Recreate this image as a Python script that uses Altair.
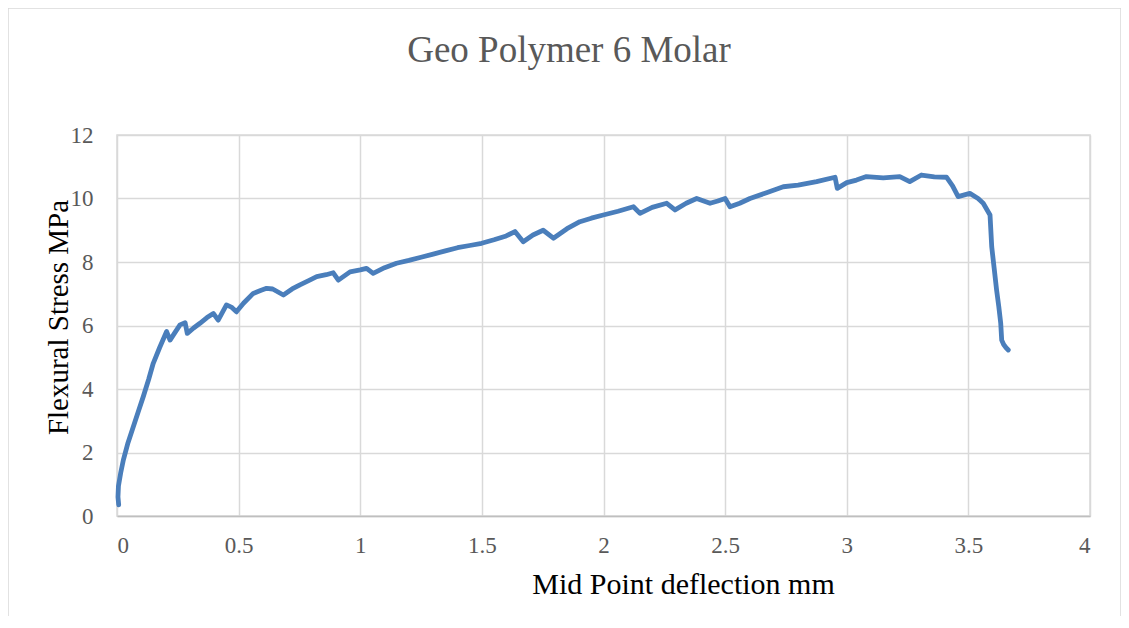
import altair as alt
import pandas as pd

deflection = [0.007, 0.004, 0.006, 0.015, 0.026, 0.045, 0.067, 0.088, 0.108, 0.13, 0.149, 0.175, 0.204, 0.218,
              0.24, 0.259, 0.28, 0.289, 0.315, 0.341, 0.37, 0.396, 0.416, 0.45, 0.47, 0.491, 0.52, 0.56, 0.59,
              0.615, 0.64, 0.684, 0.72, 0.752, 0.79, 0.821, 0.86, 0.889, 0.91, 0.958, 1.0, 1.026, 1.053, 1.1,
              1.149, 1.2, 1.25, 1.3, 1.35, 1.4, 1.45, 1.499, 1.55, 1.6, 1.636, 1.67, 1.71, 1.752, 1.794, 1.85,
              1.903, 1.95, 1.999, 2.06, 2.123, 2.15, 2.2, 2.26, 2.294, 2.34, 2.383, 2.438, 2.47, 2.5, 2.52, 2.56,
              2.602, 2.67, 2.739, 2.8, 2.876, 2.952, 2.961, 3.0, 3.04, 3.081, 3.15, 3.218, 3.259, 3.307, 3.36,
              3.41, 3.435, 3.458, 3.506, 3.54, 3.561, 3.589, 3.596, 3.606, 3.616, 3.625, 3.633, 3.637, 3.645,
              3.655, 3.664]
stress = [0.35, 0.6, 0.95, 1.35, 1.76, 2.3, 2.81, 3.3, 3.76, 4.3, 4.81, 5.3, 5.81, 5.54,
          5.8, 6.02, 6.09, 5.75, 5.92, 6.07, 6.25, 6.38, 6.17, 6.65, 6.58, 6.43, 6.7, 7.01, 7.1,
          7.17, 7.15, 6.96, 7.15, 7.28, 7.42, 7.54, 7.6, 7.66, 7.43, 7.69, 7.75, 7.8, 7.64, 7.82,
          7.96, 8.05, 8.15, 8.25, 8.35, 8.45, 8.52, 8.59, 8.7, 8.82, 8.96, 8.64, 8.85, 9.0, 8.75, 9.05,
          9.27, 9.38, 9.48, 9.6, 9.74, 9.53, 9.72, 9.85, 9.64, 9.85, 10.0, 9.85, 9.92, 10.0, 9.74, 9.85,
          10.0, 10.18, 10.37, 10.42, 10.53, 10.67, 10.32, 10.5, 10.58, 10.69, 10.65, 10.69, 10.53, 10.74, 10.68,
          10.67, 10.4, 10.06, 10.16, 10.0, 9.85, 9.48, 8.48, 7.8, 7.12, 6.6, 6.07, 5.54, 5.4,
          5.3, 5.23]

x_ticks = [0, 0.5, 1, 1.5, 2, 2.5, 3, 3.5, 4]
y_ticks = [0, 2, 4, 6, 8, 10, 12]
chart_title = ["Geo Polymer 6 Molar"]

df = pd.DataFrame({"x": deflection, "y": stress, "i": list(range(len(deflection)))})

FONT = "Liberation Serif"
W, H = 973, 381

border = alt.Chart(pd.DataFrame({"a": [0]})).mark_rect(
    fill=None, stroke="#d9d9d9", strokeWidth=1.5
).encode(x=alt.value(-109), x2=alt.value(W + 31), y=alt.value(-127), y2=alt.value(H + 104))

title = alt.Chart(pd.DataFrame({"t": chart_title})).mark_text(
    font=FONT, fontSize=37, color="#595959", align="center", baseline="alphabetic"
).encode(text="t:N", x=alt.value(452), y=alt.value(-73))

line = alt.Chart(df).mark_line(
    color="#4a7ebb", strokeWidth=4.8, strokeCap="round", strokeJoin="round"
).encode(
    x=alt.X("x:Q", scale=alt.Scale(domain=[0, 4], nice=False),
            axis=alt.Axis(values=x_ticks, title="Mid Point deflection mm", format="~g",
                          titleX=566, titleY=77, titleBaseline="alphabetic", titleAlign="center",
                          titleFontSize=30)),
    y=alt.Y("y:Q", scale=alt.Scale(domain=[0, 12], nice=False),
            axis=alt.Axis(values=y_ticks, title="Flexural Stress MPa",
                          titleX=-50, titleY=182, titleBaseline="alphabetic", titleAlign="center",
                          titleAngle=-90, titleFontSize=29)),
    order="i:Q",
)

chart = alt.layer(border, title, line).properties(
    width=W, height=H,
    autosize=alt.AutoSizeParams(type="none"),
    padding={"left": 109, "top": 127, "right": 31, "bottom": 100},
).configure_view(stroke="#d9d9d9", strokeWidth=1.5).configure_axis(
    grid=True, gridColor="#d9d9d9", gridWidth=1.5, ticks=False,
    domain=False, labelFont=FONT, labelFontSize=23, labelColor="#595959",
    titleFont=FONT, titleColor="#000000", titleFontWeight="normal",
).configure_axisX(labelPadding=18, domain=True, domainColor="#bfbfbf", domainWidth=1.5).configure_axisY(
    labelPadding=24
)

chart.save("out.html", embed_options={"renderer": "svg", "actions": False})
